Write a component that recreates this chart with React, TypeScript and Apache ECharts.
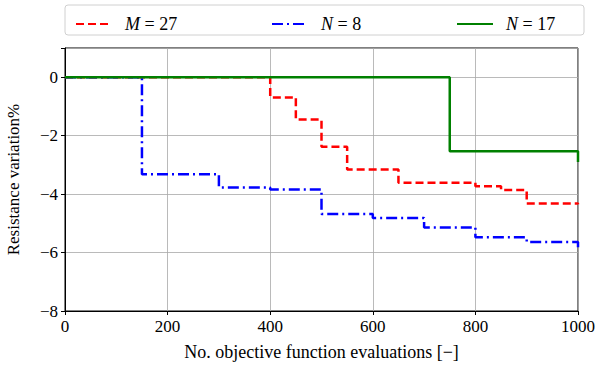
import React, { useEffect, useRef } from "react";
import * as echarts from "echarts";

const redX = [0, 400, 450, 500, 550, 650, 800, 850, 900, 1000];
const redY = [0, -0.69, -1.45, -2.38, -3.16, -3.61, -3.73, -3.86, -4.32, -4.35];
const blueX = [0, 150, 300, 400, 500, 600, 700, 800, 900, 1000];
const blueY = [0, -3.32, -3.77, -3.84, -4.68, -4.82, -5.14, -5.48, -5.64, -5.95];
const greenX = [0, 750, 1000];
const greenY = [0, -2.53, -2.9];
const seriesNames = ["M = 27", "N = 8", "N = 17"];
const legendLefts = [70, 266, 451];

const FONT = "Liberation Serif";

const zip = (xs: number[], ys: number[]) => xs.map((x, i) => [x, ys[i]]);
const minus = (v: number) => String(v).replace("-", "\u2212");

export default function App() {
  const ref = useRef<HTMLDivElement>(null);
  useEffect(() => {
    const chart = echarts.init(ref.current!, null, { renderer: "svg" });
    chart.setOption({
      animation: false,
      textStyle: { fontFamily: FONT },
      graphic: [
        {
          type: "rect",
          shape: { x: 65, y: 5, width: 519, height: 30, r: 3 },
          style: { fill: "#fff", stroke: "#d0d0d0", lineWidth: 1 },
          z: -1,
        },
      ],
      legend: seriesNames.map((n, i) => ({
        left: legendLefts[i],
        top: 10,
        itemWidth: 36,
        itemHeight: 14,
        itemGap: 10,
        data: [n],
        itemStyle: { opacity: 0 },
        formatter: (name: string) => {
          const [v, rest] = name.split(" = ");
          return "{i|" + v + "} = " + rest;
        },
        textStyle: {
          fontFamily: FONT,
          fontSize: 18,
          color: "#000",
          padding: [0, 0, 0, 8],
          rich: { i: { fontStyle: "italic", fontFamily: FONT, fontSize: 18 } },
        },
      })),
      grid: {
        left: 65,
        right: 20,
        top: 48,
        bottom: 56,
        show: true,
        borderColor: "#000",
        borderWidth: 1,
        outerBoundsMode: "none",
        containLabel: false,
      },
      xAxis: {
        type: "value",
        min: 0,
        max: 1000,
        interval: 200,
        name: "No. objective function evaluations [\u2212]",
        nameLocation: "middle",
        nameGap: 32,
        nameTextStyle: { fontFamily: FONT, fontSize: 18, color: "#000" },
        axisLine: { onZero: false, lineStyle: { color: "#000" } },
        axisTick: { show: true, length: 4, lineStyle: { color: "#000" } },
        axisLabel: {
          color: "#000",
          fontSize: 17,
          fontFamily: FONT,
          margin: 7,
          formatter: (v: number) => String(v),
        },
        splitLine: { lineStyle: { color: "#a8a8a8", width: 0.8 } },
      },
      yAxis: {
        type: "value",
        min: -8,
        max: 1,
        interval: 2,
        name: "Resistance variation%",
        nameLocation: "middle",
        nameGap: 43,
        nameTextStyle: { fontFamily: FONT, fontSize: 17, color: "#000" },
        axisLine: { show: true, onZero: false, lineStyle: { color: "#000" } },
        axisTick: { show: true, length: 4, lineStyle: { color: "#000" } },
        axisLabel: {
          color: "#000",
          fontSize: 17,
          fontFamily: FONT,
          margin: 7,
          formatter: (v: number) => (v > 0 ? "" : minus(v)),
        },
        splitLine: { lineStyle: { color: "#a8a8a8", width: 0.8 } },
      },
      series: [
        {
          name: seriesNames[0],
          type: "line",
          step: "end",
          symbol: "none",
          data: zip(redX, redY),
          itemStyle: { color: "#ff0000" },
          lineStyle: { color: "#ff0000", width: 2.5, type: [8, 4] },
        },
        {
          name: seriesNames[1],
          type: "line",
          step: "end",
          symbol: "none",
          data: zip(blueX, blueY),
          itemStyle: { color: "#0000ff" },
          lineStyle: { color: "#0000ff", width: 2.5, type: [11, 4, 2, 4] },
        },
        {
          name: seriesNames[2],
          type: "line",
          step: "end",
          symbol: "none",
          data: zip(greenX, greenY),
          itemStyle: { color: "#008000" },
          lineStyle: { color: "#008000", width: 2.5 },
        },
      ],
    });
    return () => chart.dispose();
  }, []);
  return <div ref={ref} style={{ width: 598, height: 367, position: "absolute", left: 0, top: 0 }} />;
}
